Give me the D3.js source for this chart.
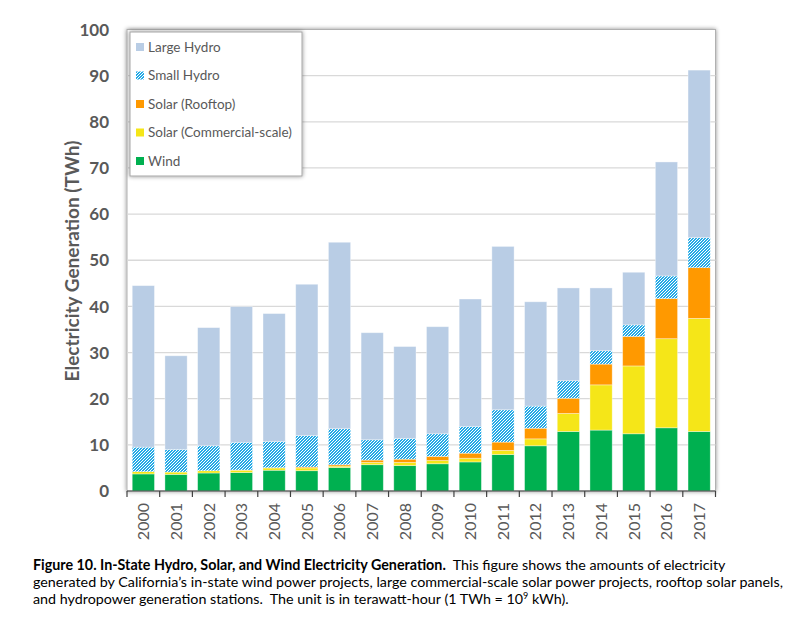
<!DOCTYPE html>
<html><head><meta charset="utf-8">
<script src="https://cdn.jsdelivr.net/npm/d3@7"></script>
<style>body{margin:0;background:#fff} svg{display:block}</style>
</head><body>
<svg id="c" width="800" height="622"></svg>
<script>
const years = ["2000","2001","2002","2003","2004","2005","2006","2007","2008","2009","2010","2011","2012","2013","2014","2015","2016","2017"];
const wind       = [3.7,3.6,3.9,4.0,4.5,4.4,5.1,5.7,5.5,5.9,6.3,7.9,9.8,12.9,13.2,12.4,13.7,12.9];
const solarComm  = [0.5,0.5,0.5,0.5,0.5,0.6,0.3,0.5,0.7,0.7,0.8,0.9,1.5,3.9,9.8,14.7,19.3,24.5];
const solarRoof  = [0.0,0.0,0.0,0.05,0.05,0.2,0.3,0.5,0.7,0.9,1.1,1.8,2.3,3.3,4.5,6.4,8.7,11.0];
const smallHydro = [5.3,4.9,5.4,6.0,5.7,6.8,7.8,4.4,4.5,4.9,5.8,7.0,4.8,3.8,2.9,2.5,4.9,6.5];
const largeHydro = [35.0,20.3,25.6,29.4,27.7,32.8,40.4,23.2,19.9,23.2,27.6,35.4,22.6,20.1,13.6,11.4,24.7,36.3];
const stackKeys = ["Wind","Solar (Commercial-scale)","Solar (Rooftop)","Small Hydro","Large Hydro"];
const legendKeys = ["Large Hydro","Small Hydro","Solar (Rooftop)","Solar (Commercial-scale)","Wind"];
const yTicks = [0,10,20,30,40,50,60,70,80,90,100];
const yTitle = "Electricity Generation (TWh)";
const captionBold = "Figure 10. In-State Hydro, Solar, and Wind Electricity Generation.";
const captionLine1 = "\u00A0 This figure shows the amounts of electricity";
const captionLine2 = "generated by California\u2019s in-state wind power projects, large commercial-scale solar power projects, rooftop solar panels,";
const captionLine3a = "and hydropower generation stations.\u00A0 The unit is in terawatt-hour (1 TWh = 10";
const captionLine3sup = "9";
const captionLine3b = " kWh).";

const colors = {
  "Wind":"#00B050",
  "Solar (Commercial-scale)":"#F5E618",
  "Solar (Rooftop)":"#FF9900",
  "Small Hydro":"url(#shPat)",
  "Large Hydro":"#B9CDE5"
};

const table = years.map((yr,i)=>({year:yr,"Wind":wind[i],"Solar (Commercial-scale)":solarComm[i],"Solar (Rooftop)":solarRoof[i],"Small Hydro":smallHydro[i],"Large Hydro":largeHydro[i]}));

const svg = d3.select("#c");
const FONT = "Lato, 'Open Sans', sans-serif";
const L=127, R=715.5, T=29.5, B=491;

const defs = svg.append("defs");
const pat = defs.append("pattern").attr("id","shPat").attr("patternUnits","userSpaceOnUse").attr("width",3).attr("height",3);
pat.append("rect").attr("width",3).attr("height",3).attr("fill","#25AAE6");
[[0,2],[1,1],[2,0]].forEach(([px,py])=>pat.append("rect").attr("x",px).attr("y",py).attr("width",1).attr("height",1).attr("fill","#ffffff"));
const f = defs.append("filter").attr("id","shadow").attr("x","-10%").attr("y","-10%").attr("width","120%").attr("height","120%");
f.append("feDropShadow").attr("dx",0).attr("dy",0).attr("stdDeviation",2).attr("flood-color","#000").attr("flood-opacity",0.45);

const x = d3.scaleBand().domain(years).range([L,R]).paddingInner(0.32).paddingOuter(0.16);
const y = d3.scaleLinear().domain([0,100]).range([B,T]);

// plot frame
svg.append("rect").attr("x",L).attr("y",T).attr("width",R-L).attr("height",B-T)
  .attr("fill","#fff").attr("stroke","#B0B0B0").attr("stroke-width",1).attr("filter","url(#shadow)");

// gridlines
svg.append("g").selectAll("line").data(yTicks.filter(t=>t>0&&t<100)).join("line")
  .attr("x1",L).attr("x2",R).attr("y1",d=>y(d)).attr("y2",d=>y(d))
  .attr("stroke","#D9D9D9").attr("stroke-width",1.3);

// bars
const stacked = d3.stack().keys(stackKeys)(table);
svg.append("g").selectAll("g").data(stacked).join("g")
  .attr("fill",d=>colors[d.key])
  .selectAll("rect").data(d=>d).join("rect")
  .attr("x",d=>x(d.data.year)).attr("width",x.bandwidth())
  .attr("y",d=>y(d[1])).attr("height",d=>Math.max(0,y(d[0])-y(d[1])))
  .attr("stroke","#ffffff").attr("stroke-opacity",0.45).attr("stroke-width",0.8);

// x axis
const half = (x.step()-x.bandwidth())/2;
const bounds = years.map(yr=>x(yr)-half).concat([x(years[years.length-1])+x.bandwidth()+half]);
svg.append("line").attr("x1",L).attr("x2",R).attr("y1",B).attr("y2",B).attr("stroke","#404040").attr("stroke-width",1.2);
svg.append("g").selectAll("line").data(bounds).join("line")
  .attr("x1",d=>d).attr("x2",d=>d).attr("y1",B).attr("y2",B+6).attr("stroke","#404040").attr("stroke-width",1.2);
svg.append("g").selectAll("text").data(years).join("text")
  .attr("transform",d=>`translate(${x(d)+x.bandwidth()/2},503) rotate(-90)`)
  .attr("text-anchor","end").attr("dy","0.36em")
  .attr("font-family",FONT).attr("font-size",16).attr("fill","#595959").text(d=>d);

// y axis labels
svg.append("g").selectAll("text").data(yTicks).join("text")
  .attr("x",109).attr("y",d=>y(d)).attr("dy","0.36em").attr("text-anchor","end")
  .attr("font-family",FONT).attr("font-size",17).attr("font-weight","bold").attr("fill","#595959").text(d=>d);

// y title
svg.append("text").attr("transform","translate(72,261) rotate(-90)")
  .attr("text-anchor","middle").attr("dy","0.36em")
  .attr("font-family",FONT).attr("font-size",19).attr("font-weight","bold").attr("fill","#595959").text(yTitle);

// legend
const lg = svg.append("g");
lg.append("rect").attr("x",130).attr("y",32).attr("width",172).attr("height",144)
  .attr("fill","#fff").attr("stroke","#A6A6A6").attr("filter","url(#shadow)");
const ly = d3.scalePoint().domain(legendKeys).range([47,161]);
const li = lg.selectAll("g.item").data(legendKeys).join("g").attr("class","item");
li.append("rect").attr("x",136).attr("y",d=>ly(d)-4).attr("width",8).attr("height",8).attr("fill",d=>colors[d]);
li.append("text").attr("x",148).attr("y",d=>ly(d)).attr("dy","0.36em")
  .attr("font-family",FONT).attr("font-size",13.5).attr("fill","#595959").text(d=>d);

// caption
const cap = svg.append("g").attr("font-family",FONT).attr("fill","#000");
const t1 = cap.append("text").attr("x",33).attr("y",570).attr("font-size",14.3);
t1.append("tspan").attr("font-weight","bold").text(captionBold);
t1.append("tspan").text(captionLine1);
cap.append("text").attr("x",33).attr("y",587).attr("font-size",14.3).text(captionLine2);
const t3 = cap.append("text").attr("x",33).attr("y",604).attr("font-size",14.3);
t3.append("tspan").text(captionLine3a);
t3.append("tspan").attr("font-size",9).attr("dy",-5).text(captionLine3sup);
t3.append("tspan").attr("dy",5).text(captionLine3b);
</script>
</body></html>
